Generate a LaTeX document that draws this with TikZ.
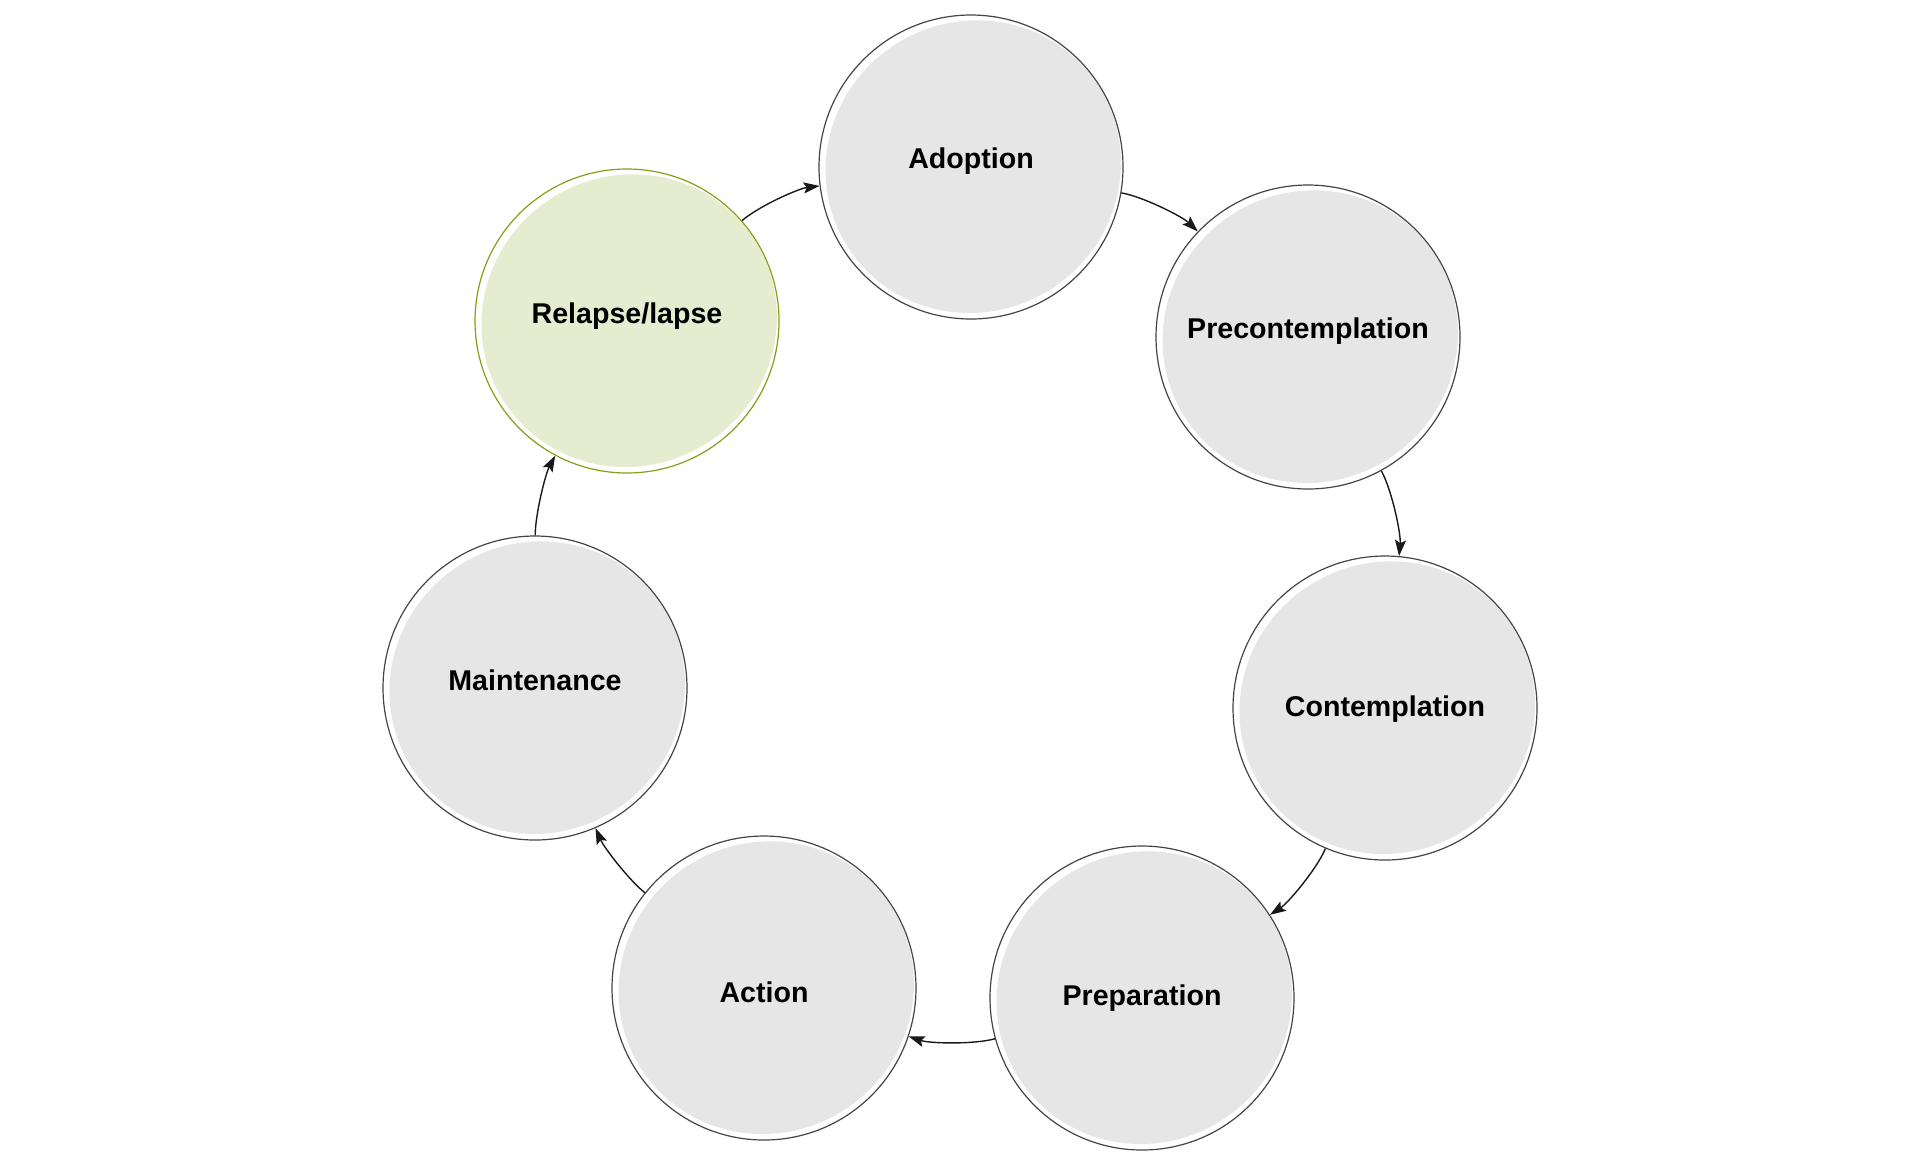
\documentclass[tikz,border=0pt]{standalone}
\usepackage{fontspec}
\setmainfont{Liberation Sans}
\usepackage{xcolor}
\usepackage{tikz}
\usetikzlibrary{arrows.meta}
\pgfdeclarelayer{background}
\pgfsetlayers{background,main}

\definecolor{stagefill}{HTML}{E6E6E6}
\definecolor{stageline}{HTML}{444444}
\definecolor{lapsefill}{HTML}{E5ECD0}
\definecolor{lapseline}{HTML}{84A016}

\tikzset{
    stage/.style={circle, draw=stageline, line width=0.6pt, minimum size=152pt, inner sep=0pt},
    stagetext/.style={font=\fontsize{14.3}{17}\selectfont\bfseries, text=black},
    cycle/.style={-{Stealth[length=8pt, width=5.5pt, inset=1.5pt]}, line width=0.7pt, color=black!90, bend left=17, looseness=0.65}
}

\begin{document}
\begin{tikzpicture}[x=0.5pt, y=-0.5pt]

\useasboundingbox (0,0) rectangle (1920,1164);

\node[stage] (ado) at (971,167) {};
\node[stage] (pre) at (1308,337) {};
\node[stage] (con) at (1385,708) {};
\node[stage] (prep) at (1142,998) {};
\node[stage] (act) at (764,988) {};
\node[stage] (mai) at (535,688) {};
\node[stage, draw=lapseline] (rel) at (627,321) {};

% sketchy fills behind the outlines
\begin{pgfonlayer}{background}
\foreach \n in {ado,pre,con,prep,act,mai} {
    \fill[stagefill, shift={(\n.center)}, rotate=35] (2,1) ellipse[x radius=149, y radius=145];
};
\fill[lapsefill, shift={(rel.center)}, rotate=35] (2,1) ellipse[x radius=149, y radius=145];
\end{pgfonlayer}

\node[stagetext] at ([yshift=3pt]ado.center) {Adoption};
\node[stagetext] at ([yshift=3pt]pre.center) {Precontemplation};
\node[stagetext] at ([yshift=-0.5pt]con.center) {Contemplation};
\node[stagetext] at ([yshift=0pt]prep.center) {Preparation};
\node[stagetext] at ([yshift=-2pt]act.center) {Action};
\node[stagetext] at ([yshift=4pt]mai.center) {Maintenance};
\node[stagetext] at ([yshift=2.5pt]rel.center) {Relapse/lapse};

\draw[cycle] (rel) to (ado);
\draw[cycle] (ado) to (pre);
\draw[cycle] (pre) to (con);
\draw[cycle] (con) to (prep);
\draw[cycle] (prep) to (act);
\draw[cycle, bend left=14] (act) to (mai);
\draw[cycle, bend left=14] (mai) to (rel);

\end{tikzpicture}
\end{document}
